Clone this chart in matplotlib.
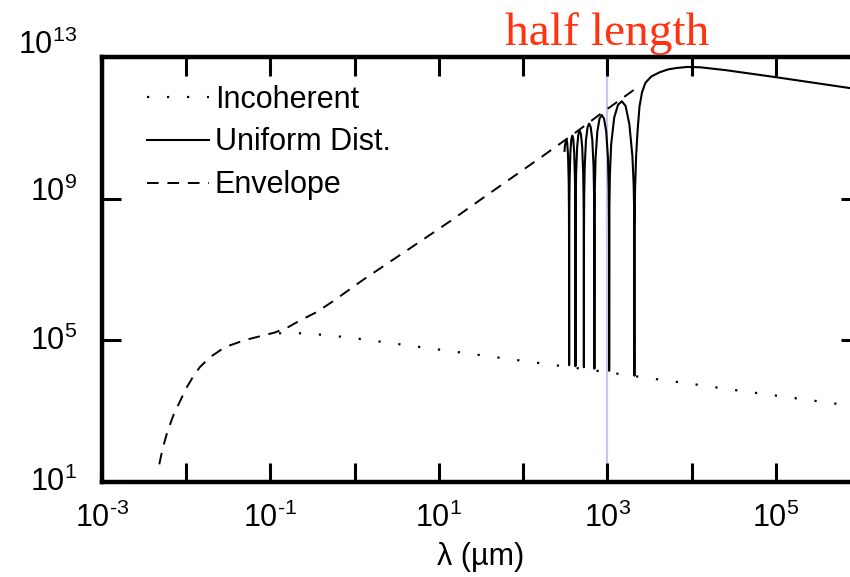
import numpy as np
import matplotlib
matplotlib.use("Agg")
import matplotlib.pyplot as plt
from matplotlib.transforms import ScaledTranslation

plt.rcParams['font.family'] = ['Liberation Sans', 'DejaVu Sans']
plt.rcParams['mathtext.fontset'] = 'custom'
plt.rcParams['mathtext.rm'] = 'Liberation Sans'
plt.rcParams['mathtext.default'] = 'regular'

# values, stored as log10 exponents
incoh_logx = [-0.9, -0.6, -0.3, 0.0, 0.5, 1.0, 1.5, 2.0, 2.5, 3.0, 3.5, 4.0, 4.5, 5.0, 5.5, 6.0]
incoh_logy = [5.20, 5.20, 5.14, 5.06, 4.90, 4.74, 4.58, 4.42, 4.26, 4.10, 3.93, 3.77, 3.60, 3.44, 3.28, 3.12]

env_logx = [-2.32, -2.28, -2.22, -2.15, -2.07, -2.0, -1.92, -1.84, -1.72, -1.54, -1.30, -1.10,
            -0.95, -0.8, -0.65, -0.45, -0.26, 0.1, 0.45, 0.77, 1.13, 1.48, 1.84, 2.23, 2.6,
            2.91, 3.33]
env_logy = [1.50, 1.95, 2.45, 2.90, 3.30, 3.65, 3.97, 4.24, 4.52, 4.81, 5.01, 5.13,
            5.22, 5.36, 5.56, 5.80, 6.10, 6.71, 7.27, 7.78, 8.36, 8.95, 9.55, 10.20, 10.83,
            11.38, 12.10]

unif_logx = [2.49, 2.495, 2.503, 2.5125, 2.522, 2.532, 2.540, 2.543, 2.544,
             2.545, 2.5458, 2.5473, 2.551, 2.560, 2.571, 2.5825, 2.594, 2.605, 2.614, 2.6178, 2.6193,
             2.62, 2.621, 2.623, 2.628, 2.64, 2.655, 2.67, 2.685, 2.70, 2.712, 2.717, 2.719,
             2.72, 2.7213, 2.7238, 2.73, 2.745, 2.764, 2.7825, 2.801, 2.82, 2.835, 2.8413, 2.8438,
             2.845, 2.8468, 2.8503, 2.859, 2.88, 2.906, 2.9325, 2.959, 2.985, 3.006, 3.0148, 3.0183,
             3.02, 3.023, 3.029, 3.044, 3.08, 3.125, 3.17, 3.215, 3.26, 3.296, 3.311, 3.317,
             3.32, 3.322, 3.328, 3.34, 3.357, 3.38, 3.41, 3.45, 3.52, 3.62, 3.72, 3.82, 3.95,
             4.1, 4.4, 4.7, 5.0, 5.4, 5.8, 6.0]
unif_logy = [10.35, 10.50, 10.58, 10.68, 10.58, 10.22, 9.47, 8.63, 7.68,
             4.30, 7.78, 8.73, 9.57, 10.32, 10.68, 10.78, 10.68, 10.32, 9.57, 8.73, 7.78,
             4.27, 7.92, 8.87, 9.71, 10.46, 10.82, 10.92, 10.82, 10.46, 9.71, 8.87, 7.92,
             4.24, 8.12, 9.07, 9.91, 10.66, 11.02, 11.12, 11.02, 10.66, 9.91, 9.07, 8.12,
             4.20, 8.36, 9.31, 10.15, 10.90, 11.26, 11.36, 11.26, 10.90, 10.15, 9.31, 8.36,
             4.14, 8.75, 9.70, 10.54, 11.29, 11.65, 11.75, 11.62, 11.10, 10.20, 9.40, 8.60,
             4.00, 8.20, 9.30, 10.20, 10.90, 11.60, 12.00, 12.27, 12.45, 12.57, 12.65, 12.69, 12.72,
             12.71, 12.63, 12.53, 12.43, 12.29, 12.15, 12.08]

half_length = 1e3
xtick_exp = [-3, -2, -1, 0, 1, 2, 3, 4, 5, 6]
ytick_exp = [1, 5, 9, 13]
# the scanned labels sit a little above their ticks (points)
ylabel_lift = [2, 2, 7, 11]


def power_label(e):
    # short hyphen like the original scan instead of a long minus
    if e < 0:
        return r'$10^{\text{-}%d}$' % (-e)
    return '$10^{%d}$' % e


fig = plt.figure(figsize=(8.5, 5.77), dpi=100)
ax = fig.add_axes([0.12, 0.1646, 0.892, 0.7366])

ax.axvline(half_length, color='#c6c6f2', lw=1.6, zorder=1)
ax.plot(10.0 ** np.array(incoh_logx), 10.0 ** np.array(incoh_logy), color='black',
        lw=1.6, linestyle=(0, (1, 8)), label='Incoherent', zorder=2)
ax.plot(10.0 ** np.array(unif_logx), 10.0 ** np.array(unif_logy), color='black',
        lw=1.5, label='Uniform Dist.', zorder=3)
ax.plot(10.0 ** np.array(env_logx), 10.0 ** np.array(env_logy), color='black',
        lw=1.4, linestyle=(0, (6, 4.5)), label='Envelope', zorder=2)

ax.set_xscale('log')
ax.set_yscale('log')
ax.set_xlim(1e-3, 1e6)
ax.set_ylim(1e1, 1e13)

ax.set_xticks([10.0 ** e for e in xtick_exp])
ax.set_xticklabels([power_label(e) if e % 2 else '' for e in xtick_exp])
ax.set_yticks([10.0 ** e for e in ytick_exp])
ax.set_yticklabels([power_label(e) for e in ytick_exp])
ax.minorticks_off()
ax.tick_params(which='major', direction='in', length=14, width=2.2,
               top=True, right=True, labelsize=22)
ax.tick_params(axis='x', pad=15)
ax.tick_params(axis='y', pad=18)
for s in ax.spines.values():
    s.set_linewidth(3.2)

for lab, dy in zip(ax.get_yticklabels(), ylabel_lift):
    lab.set_transform(lab.get_transform() + ScaledTranslation(0, dy / 72, fig.dpi_scale_trans))

ax.set_xlabel('λ (µm)', fontsize=22, labelpad=6)

ax.annotate('half length', xy=(half_length, 1.0), xycoords=('data', 'axes fraction'),
            xytext=(0, 9), textcoords='offset points', ha='center', va='baseline',
            fontsize=34, color='#ff3311', family=['Liberation Serif', 'DejaVu Serif'])

ax.legend(loc='upper left', bbox_to_anchor=(0.06, 0.935), frameon=False, fontsize=22,
          handlelength=2.0, handletextpad=0.2, labelspacing=0.42, borderpad=0,
          borderaxespad=0)

fig.savefig('out.png', dpi=100)
